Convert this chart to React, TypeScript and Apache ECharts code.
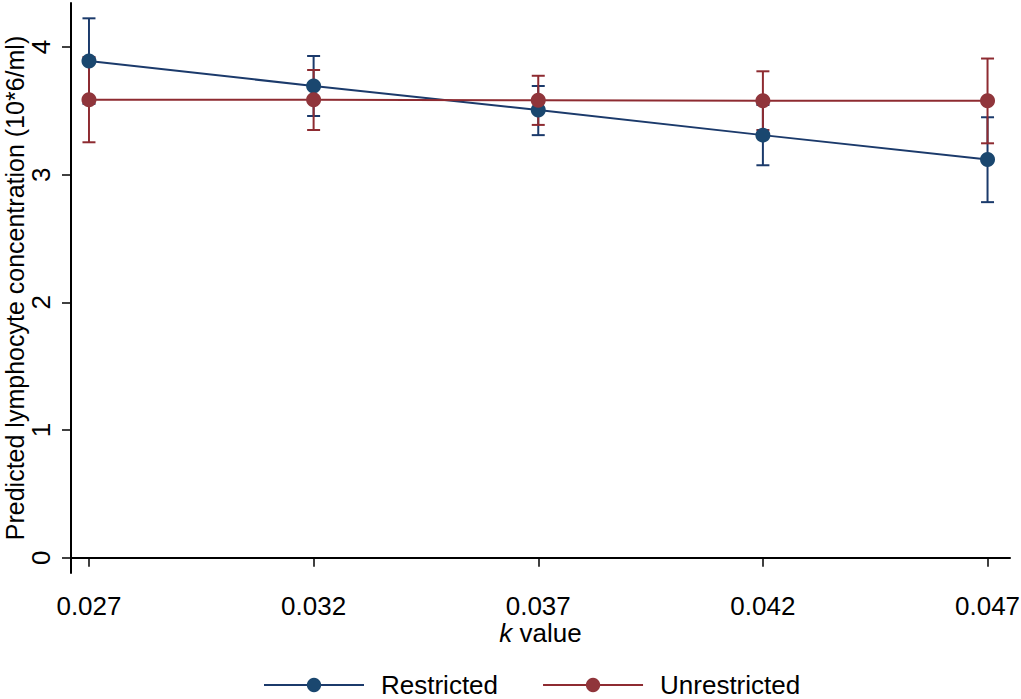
import React, { useEffect, useRef } from "react";
import * as echarts from "echarts";

const kValues = [0.027, 0.032, 0.037, 0.042, 0.047];
const restricted = [3.89, 3.695, 3.507, 3.31, 3.12];
const restrictedLow = [3.555, 3.46, 3.31, 3.074, 2.785];
const restrictedHigh = [4.225, 3.93, 3.695, 3.546, 3.45];
const unrestricted = [3.588, 3.588, 3.583, 3.58, 3.58];
const unrestrictedLow = [3.254, 3.35, 3.39, 3.35, 3.246];
const unrestrictedHigh = [3.922, 3.82, 3.775, 3.81, 3.91];
const yTicks = [0, 1, 2, 3, 4];
const xTickLabels = ["0.027", "0.032", "0.037", "0.042", "0.047"];

const BLUE = "#1a476f";
const BLUE_LINE = "#1b3a6b";
const RED = "#90353b";
const RED_LINE = "#8e2b31";
const FONT = "Arial, 'Liberation Sans', sans-serif";

function errorBar(name: string, low: number[], high: number[], color: string) {
  return {
    name,
    type: "custom",
    data: kValues.map((k, i) => [k, low[i], high[i]]),
    encode: { x: 0, y: [1, 2] },
    renderItem: (params: any, api: any) => {
      const x = api.value(0);
      const lo = api.coord([x, api.value(1)]);
      const hi = api.coord([x, api.value(2)]);
      const w = 6.5;
      const st = { stroke: color, lineWidth: 2 };
      return {
        type: "group",
        children: [
          { type: "line", shape: { x1: lo[0], y1: lo[1], x2: hi[0], y2: hi[1] }, style: st },
          { type: "line", shape: { x1: lo[0] - w, y1: lo[1], x2: lo[0] + w, y2: lo[1] }, style: st },
          { type: "line", shape: { x1: hi[0] - w, y1: hi[1], x2: hi[0] + w, y2: hi[1] }, style: st },
        ],
      };
    },
    silent: true,
  };
}

export default function App() {
  const ref = useRef<HTMLDivElement>(null);
  useEffect(() => {
    document.body.style.margin = "0";
    const chart = echarts.init(ref.current!, null, { renderer: "svg" });
    chart.setOption({
      animation: false,
      backgroundColor: "#ffffff",
      textStyle: { fontFamily: FONT },
      grid: { left: 71, right: 11, top: 3, bottom: 126, containLabel: false, outerBoundsMode: "none" },
      legend: {
        data: ["Restricted", "Unrestricted"],
        left: 263,
        top: 672,
        padding: 0,
        itemWidth: 100,
        itemHeight: 18,
        itemGap: 44,
        textStyle: { fontSize: 26, lineHeight: 24, color: "#000", fontFamily: FONT, padding: [0, 0, 0, 12] },
      },
      xAxis: {
        type: "value",
        min: 0.0266,
        max: 0.0475,
        name: "{i|k} value",
        nameLocation: "middle",
        nameGap: 49,
        nameMoveOverlap: false,
        nameTextStyle: {
          fontSize: 26,
          lineHeight: 22,
          color: "#000",
          rich: { i: { fontStyle: "italic", fontSize: 26, lineHeight: 22, color: "#000" } },
        },
        axisLine: { show: true, lineStyle: { color: "#000", width: 2 } },
        axisTick: {
          show: true,
          customValues: kValues,
          length: 9,
          lineStyle: { color: "#000", width: 1.5 },
        },
        axisLabel: {
          customValues: kValues,
          formatter: (v: number) => {
            const i = kValues.findIndex((k) => Math.abs(k - v) < 1e-9);
            return i >= 0 ? xTickLabels[i] : "";
          },
          margin: 22,
          fontSize: 26,
          lineHeight: 22,
          color: "#000",
        },
        splitLine: { show: false },
      },
      yAxis: {
        type: "value",
        min: -0.12,
        max: 4.345,
        name: "Predicted lymphocyte concentration (10*6/ml)",
        nameLocation: "middle",
        nameRotate: 90,
        nameGap: 45,
        nameMoveOverlap: false,
        nameTextStyle: { fontSize: 25, lineHeight: 22, color: "#000" },
        axisLine: { show: true, lineStyle: { color: "#000", width: 2 } },
        axisTick: {
          show: true,
          customValues: yTicks,
          length: 9,
          lineStyle: { color: "#000", width: 1.5 },
        },
        axisLabel: {
          customValues: yTicks,
          rotate: 90,
          margin: 19,
          fontSize: 26,
          lineHeight: 22,
          color: "#000",
        },
        splitLine: { show: false },
      },
      series: [
        errorBar("Restricted CI", restrictedLow, restrictedHigh, BLUE_LINE),
        errorBar("Unrestricted CI", unrestrictedLow, unrestrictedHigh, RED_LINE),
        {
          name: "Restricted",
          type: "line",
          data: kValues.map((k, i) => [k, restricted[i]]),
          symbol: "circle",
          symbolSize: 15,
          itemStyle: { color: BLUE, borderWidth: 0 },
          lineStyle: { color: BLUE_LINE, width: 2 },
        },
        {
          name: "Unrestricted",
          type: "line",
          data: kValues.map((k, i) => [k, unrestricted[i]]),
          symbol: "circle",
          symbolSize: 15,
          itemStyle: { color: RED, borderWidth: 0 },
          lineStyle: { color: RED_LINE, width: 2 },
        },
      ],
    });
    return () => chart.dispose();
  }, []);
  return <div ref={ref} style={{ width: 1021, height: 699 }} />;
}
